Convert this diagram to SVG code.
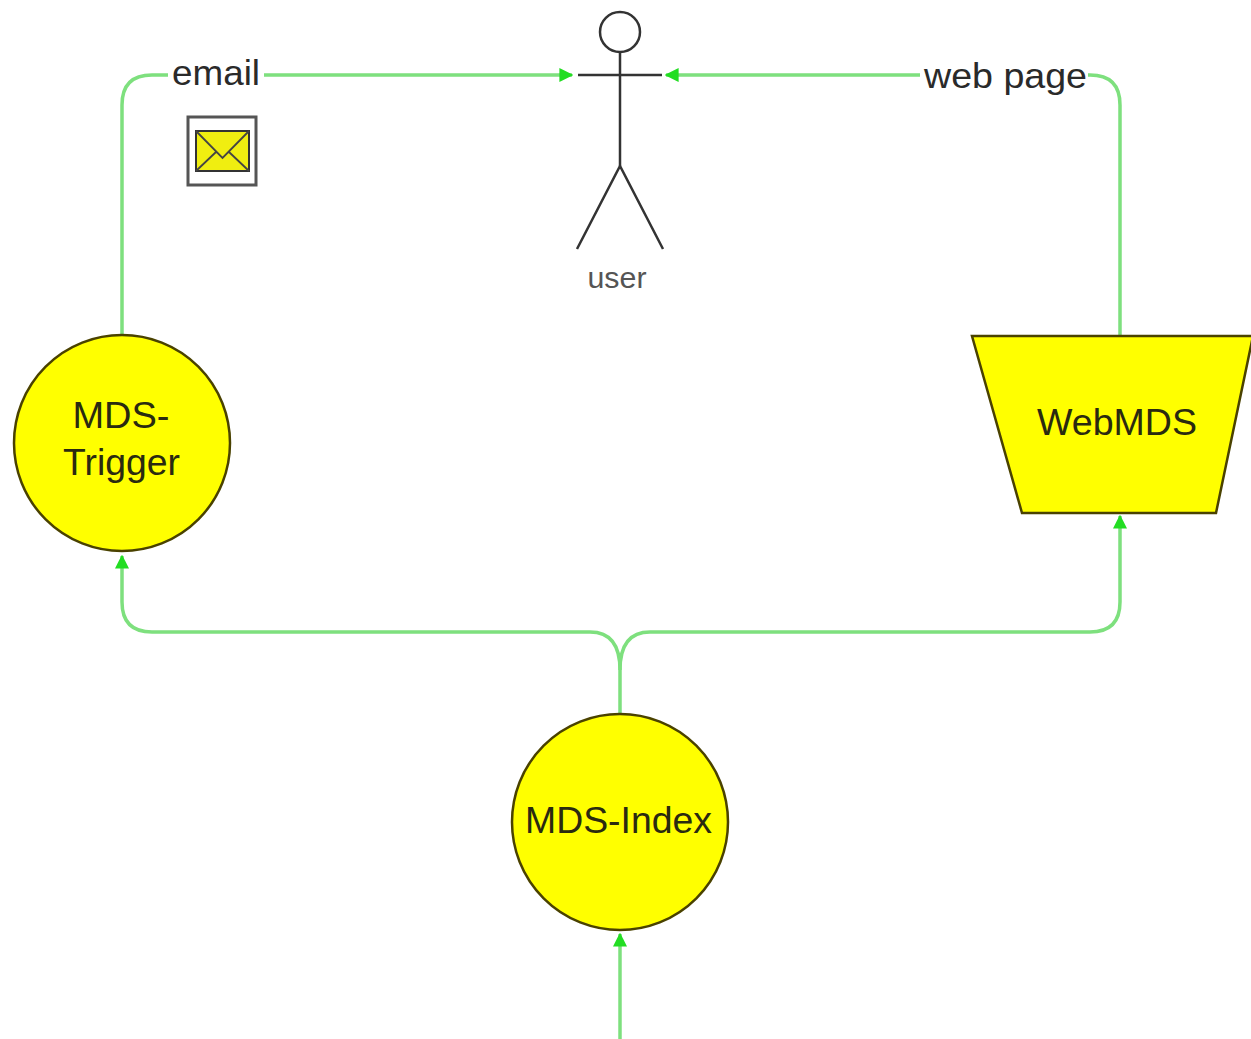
<svg xmlns="http://www.w3.org/2000/svg" width="1251" height="1039" viewBox="0 0 1251 1039">
<style>
.conn{fill:none;stroke:#7ee07e;stroke-width:3.5}
.node{fill:#ffff00;stroke:#4a4200;stroke-width:2.5}
.lbl{font-family:"Liberation Sans",Arial,sans-serif;fill:#2a2a2a;font-size:35px}
.nlbl{font-family:"Liberation Sans",Arial,sans-serif;fill:#2a2a10;font-size:37px;text-anchor:middle}
.stick{fill:none;stroke:#333;stroke-width:2.5}
</style>
<defs>
<marker id="arr" viewBox="0 0 10 10" refX="9" refY="5" markerWidth="4" markerHeight="4" orient="auto" markerUnits="strokeWidth">
<path d="M0,0 L10,5 L0,10 z" fill="#22dd22"/>
</marker>
</defs>
<rect width="1251" height="1039" fill="#ffffff"/>
<g id="connectors">
<path class="conn" d="M122,335 V105 Q122,75 152,75 H572" marker-end="url(#arr)"/>
<path class="conn" d="M1120,335 V105 Q1120,75 1090,75 H666" marker-end="url(#arr)"/>
<path class="conn" d="M620,714 V670 Q620,632 590,632 H152 Q122,632 122,602 V556" marker-end="url(#arr)"/>
<path class="conn" d="M620,670 Q620,632 650,632 H1090 Q1120,632 1120,602 V516" marker-end="url(#arr)"/>
<path class="conn" d="M620,1039 V934" marker-end="url(#arr)"/>
</g>
<g id="label-email">
<rect x="168" y="56" width="96" height="38" fill="#ffffff"/>
<text class="lbl" x="172" y="85" textLength="88" lengthAdjust="spacingAndGlyphs">email</text>
</g>
<g id="label-webpage">
<rect x="920" y="56" width="168" height="44" fill="#ffffff"/>
<text class="lbl" x="924" y="88" textLength="163" lengthAdjust="spacingAndGlyphs">web page</text>
</g>
<g id="envelope">
<rect x="188" y="117" width="68" height="68" fill="#ffffff" stroke="#555" stroke-width="3"/>
<rect x="196" y="131" width="53" height="40" fill="#f0ee10" stroke="#333" stroke-width="2"/>
<path d="M196,131 L222.5,158 L249,131 M196,171 L216,152 M249,171 L229,152" fill="none" stroke="#444" stroke-width="1.8"/>
</g>
<g id="user">
<circle class="stick" cx="620" cy="32" r="20"/>
<line class="stick" x1="620" y1="52" x2="620" y2="166"/>
<line class="stick" x1="578" y1="75" x2="662" y2="75"/>
<path class="stick" d="M577,249 L620,166 L663,249"/>
<text x="617" y="288" font-family="Liberation Sans,Arial,sans-serif" font-size="30" fill="#555" text-anchor="middle" textLength="59" lengthAdjust="spacingAndGlyphs">user</text>
</g>
<g id="mds-trigger">
<circle class="node" cx="122" cy="443" r="108"/>
<text class="nlbl" x="121" y="428" textLength="97" lengthAdjust="spacingAndGlyphs">MDS-</text>
<text class="nlbl" x="121.5" y="475" textLength="117" lengthAdjust="spacingAndGlyphs">Trigger</text>
</g>
<g id="webmds">
<polygon class="node" points="972,336 1253,336 1216,513 1022,513"/>
<text class="nlbl" x="1117" y="435" textLength="160" lengthAdjust="spacingAndGlyphs">WebMDS</text>
</g>
<g id="mds-index">
<circle class="node" cx="620" cy="822" r="108"/>
<text class="nlbl" x="618.5" y="833" textLength="187" lengthAdjust="spacingAndGlyphs">MDS-Index</text>
</g>
</svg>
